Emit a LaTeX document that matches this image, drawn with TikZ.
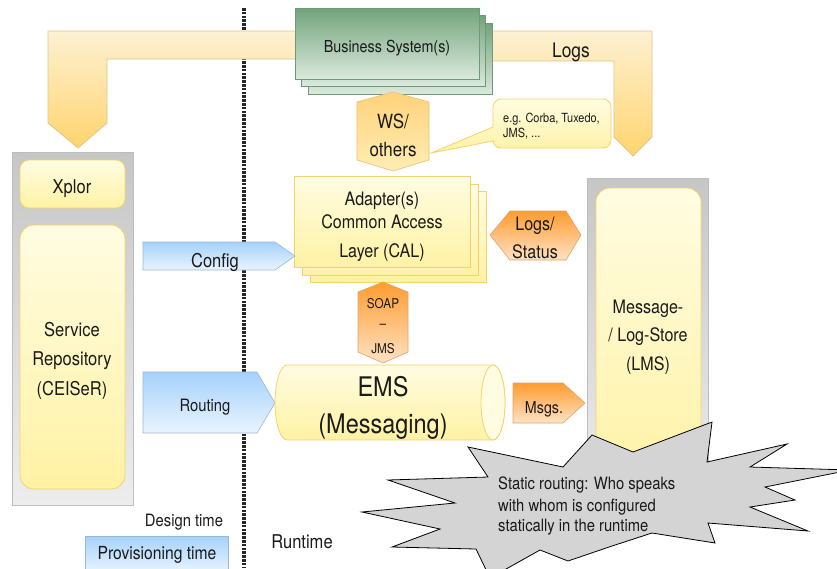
\documentclass[tikz,border=0pt]{standalone}
\usepackage{fontspec}
\setmainfont{TeX Gyre Heros}[FakeStretch=0.87]
\definecolor{txt}{HTML}{1A1A1A}
\definecolor{yTop}{HTML}{FFFCE2}
\definecolor{yBot}{HTML}{FFF2A4}
\definecolor{yLine}{HTML}{F5D26C}
\definecolor{gTop}{HTML}{72A37B}
\definecolor{gBot}{HTML}{DAE9DD}
\definecolor{gLine}{HTML}{6E9A75}
\definecolor{barLight}{HTML}{FDF1D2}
\definecolor{barDark}{HTML}{FFD46E}
\definecolor{barLine}{HTML}{E0C68C}
\definecolor{oTop}{HTML}{FF9C30}
\definecolor{oBot}{HTML}{FFE2C4}
\definecolor{oLine}{HTML}{DDA46A}
\definecolor{wTop}{HTML}{FFD27A}
\definecolor{wBot}{HTML}{FFEDB5}
\definecolor{wLine}{HTML}{EBC070}
\definecolor{bTop}{HTML}{A5D1FA}
\definecolor{bBot}{HTML}{EAF4FE}
\definecolor{bLine}{HTML}{9AB8D6}
\definecolor{grTop}{HTML}{C6C6C6}
\definecolor{grBot}{HTML}{EDEDED}
\definecolor{grLine}{HTML}{BDBDBD}
\definecolor{burst}{HTML}{D4D4D4}
\tikzset{
  lbl/.style={anchor=base, inner sep=0pt, text=txt, font=\fontsize{#1}{#1}\selectfont},
  lbl/.default=18,
  lblw/.style={anchor=base west, inner sep=0pt, text=txt, font=\fontsize{#1}{#1}\selectfont},
  lblw/.default=13,
  ybox/.style={draw=yLine, line width=0.8pt, top color=yTop, bottom color=yBot},
  gbox/.style={draw=gLine, line width=0.6pt, top color=gTop, bottom color=gBot},
  bararrow/.style={draw=barLine, line width=0.8pt, top color=barLight, bottom color=barDark},
  orshape/.style={draw=oLine, line width=0.6pt, top color=oTop, bottom color=oBot},
  wsshape/.style={draw=wLine, line width=0.6pt, top color=wTop, bottom color=wBot},
  blshape/.style={draw=bLine, line width=0.6pt, top color=bTop, bottom color=bBot},
  panel/.style={draw=grLine, line width=0.6pt, top color=grTop, bottom color=grBot},
}
\begin{document}
\begin{tikzpicture}[x=1pt, y=-1pt]
\useasboundingbox (0,0) rectangle (837,568);

% divider between design time and runtime
\coordinate (divTop) at (244,8);
\coordinate (divBot) at (244,568);
\draw[line width=4pt, black!85, dash pattern=on 2.6pt off 1.2pt] (divTop) -- (divBot);

% broad L-shaped arrows from the business systems
\path[bararrow] (296,31) -- (48,31) -- (48,123) -- (78,148) -- (107,123) -- (107,59) -- (296,59) -- cycle;
\path[bararrow] (489,31) -- (652,31) -- (652,137) -- (633,156) -- (614,137) -- (614,61) -- (489,61) -- cycle;
\node[lbl=20] (logsTop) at (571,57) {Logs};

% business systems (stacked)
\path[gbox] (308,23) rectangle (492,94);
\path[gbox] (301,15) rectangle (485,86);
\path[gbox] (295,8) rectangle (479,79);
\node[lbl=16.5] (bus) at (387,52) {Business System(s)};

% WS / others
\path[wsshape] (393,92) -- (429,102) -- (429,160) -- (393,171) -- (357,160) -- (357,102) -- cycle;
\node[lbl=19.5] (ws1) at (393,128) {WS/};
\node[lbl=19.5] (ws2) at (393,156) {others};

% callout with examples
\path[ybox] (493,127) [sharp corners] -- (431,153) -- (493,141) [rounded corners=8pt] -- (493,148) -- (611,148) -- (611,99) -- (493,99) -- (493,127);
\node[lblw=12.6] (eg1) at (503,122) {e.g. Corba, Tuxedo,};
\node[lblw=12.6] (eg2) at (503,137) {JMS, ...};

% left panel: Xplor and service repository
\path[panel] (12,152) rectangle (133,505);
\path[ybox, rounded corners=9pt] (20,160) rectangle (125,208);
\node[lbl=19] (xplor) at (72,193) {Xplor};
\path[ybox, rounded corners=14pt] (20,225) rectangle (125,489);
\node[lbl=19] (sr1) at (72,336) {Service};
\node[lbl=19] (sr2) at (72,365) {Repository};
\node[lbl=19] (sr3) at (72,395) {(CEISeR)};

% right panel: message / log store
\path[panel] (587,178) rectangle (708,500);
\path[ybox, rounded corners=14pt] (596,188) rectangle (701,490);
\node[lbl=18.5] (lms1) at (648,313) {Message-};
\node[lbl=18.5] (lms2) at (648,341) {/ Log-Store};
\node[lbl=18.5] (lms3) at (648,370) {(LMS)};

% adapters (stacked)
\path[ybox] (310,191) rectangle (486,282);
\path[ybox] (302,184) rectangle (478,275);
\path[ybox] (294,176) rectangle (470,267);
\node[lbl=18.5] (ad1) at (382,205) {Adapter(s)};
\node[lbl=18.5] (ad2) at (382,228) {Common Access};
\node[lbl=18.5] (ad3) at (382,257) {Layer (CAL)};

% config and routing arrows
\path[blshape] (143,242) -- (275,242) -- (295,256) -- (275,270) -- (143,270) -- cycle;
\node[lbl=19] (config) at (215,267) {Config};
\path[blshape] (143,372) -- (257,372) -- (275,403) -- (257,433) -- (143,433) -- cycle;
\node[lbl=17] (routing) at (205,411) {Routing};

% logs / status
\path[orshape] (490,235) -- (510,211) -- (566,211) -- (581,235) -- (566,260) -- (510,260) -- cycle;
\node[lbl=18.5] (ls1) at (535,230) {Logs/};
\node[lbl=18.5] (ls2) at (535,258) {Status};

% SOAP - JMS
\path[orshape] (383,282) -- (408,292) -- (408,352) -- (383,363) -- (358,352) -- (358,292) -- cycle;
\node[lbl=13.5] (soap) at (383,308) {SOAP};
\node[lbl=13.5] (dash) at (383,328) {--};
\node[lbl=13.5] (jms) at (383,353) {JMS};

% EMS cylinder
\path[ybox] (493,365) -- (287,365) arc[start angle=90, end angle=270, x radius=12pt, y radius=37.5pt]
  -- (493,440) arc[start angle=270, end angle=450, x radius=12pt, y radius=37.5pt] -- cycle;
\path[draw=yLine, line width=0.8pt, fill=yTop] (493,402.5) ellipse [x radius=12pt, y radius=37.5pt];
\node[lbl=27] (ems1) at (383,396) {EMS};
\node[lbl=27] (ems2) at (383,433) {(Messaging)};

% messages arrow
\path[orshape] (513,383) -- (563,383) -- (585,403) -- (563,423) -- (513,423) -- cycle;
\node[lbl=16.4] (msgs) at (544,413) {Msgs.};

% explosion note
\path[draw=black, line width=0.8pt, fill=burst]
  (468,447) -- (563,467) -- (592,435) -- (633,452) -- (712,422) -- (707,462) -- (787,444)
  -- (750,467) -- (850,470) -- (765,487) -- (795,500) -- (750,507) -- (808,531) -- (708,523)
  -- (715,543) -- (652,533) -- (612,546) -- (568,561) -- (540,550) -- (490,578) -- (476,549)
  -- (392,547) -- (440,529) -- (362,512) -- (455,503) -- (388,480) -- (488,477) -- cycle;
\node[lblw=17] (st1) at (498,489) {Static routing: Who speaks};
\node[lblw=17] (st2) at (498,511) {with whom is configured};
\node[lblw=17] (st3) at (498,531) {statically in the runtime};

% legend
\node[lbl=17] (design) at (184,526) {Design time};
\path[blshape] (85,536) rectangle (228,572);
\node[lbl=18] (prov) at (157,559) {Provisioning time};
\node[lbl=19] (runtime) at (302,548) {Runtime};
\end{tikzpicture}
\end{document}
